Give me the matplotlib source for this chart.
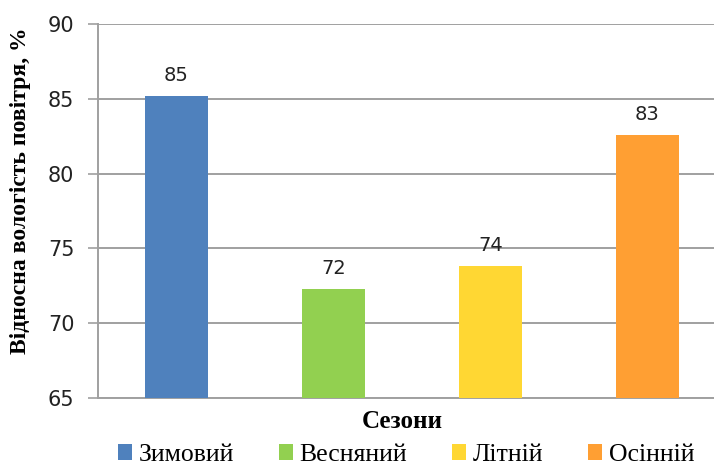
import matplotlib.pyplot as plt

# seasonal relative humidity, %
seasons = ["Зимовий", "Весняний", "Літній", "Осінній"]
humidity = [85.2, 72.3, 73.8, 82.6]
colors = ["#4F81BD", "#92D050", "#FFD733", "#FF9F33"]
y_ticks = [65, 70, 75, 80, 85, 90]

fig = plt.figure(figsize=(7.14, 4.70), dpi=100)
ax = fig.add_axes([98 / 714, 72 / 470, 628 / 714, 374 / 470])

x = range(len(seasons))
bars = ax.bar(x, humidity, width=0.40, color=colors, label=seasons, zorder=3)

for xi, v in zip(x, humidity):
    ax.annotate(f"{v:.0f}", (xi, v), xytext=(0, 8), textcoords="offset points",
                ha="center", va="bottom", fontsize=14, color="#222222",
                family="DejaVu Sans")

ax.set_xlim(-0.5, len(seasons) - 0.5)
ax.set_ylim(65, 90)
ax.set_yticks(y_ticks)
ax.set_xticks([])
ax.tick_params(axis="y", length=7, width=1.2, color="#A0A0A0", labelsize=15,
               labelcolor="#222222", pad=10)
ax.grid(axis="y", color="#A0A0A0", linewidth=1.4, zorder=0)

for side in ["top", "right"]:
    ax.spines[side].set_visible(False)
ax.spines["left"].set_color("#A0A0A0")
ax.spines["left"].set_linewidth(1.4)
ax.spines["bottom"].set_color("#A0A0A0")
ax.spines["bottom"].set_linewidth(1.4)

ax.set_ylabel("Відносна вологість повітря, %", family="Liberation Serif",
              fontweight="bold", fontsize=17)
ax.yaxis.set_label_coords(-0.107, 0.555)
fig.text(402 / 714, 1 - 422 / 470, "Сезони", family="Liberation Serif",
         fontweight="bold", fontsize=18, ha="center", va="center")

fig.legend(handles=bars, labels=seasons, loc="center", ncol=4,
           bbox_to_anchor=(406 / 714, 1 - 455 / 470), frameon=False,
           prop={"family": "Liberation Serif", "size": 18.5},
           handlelength=0.55, handleheight=0.55, handletextpad=0.25,
           columnspacing=1.75, borderpad=0.1)

fig.savefig("out.png", dpi=100)
